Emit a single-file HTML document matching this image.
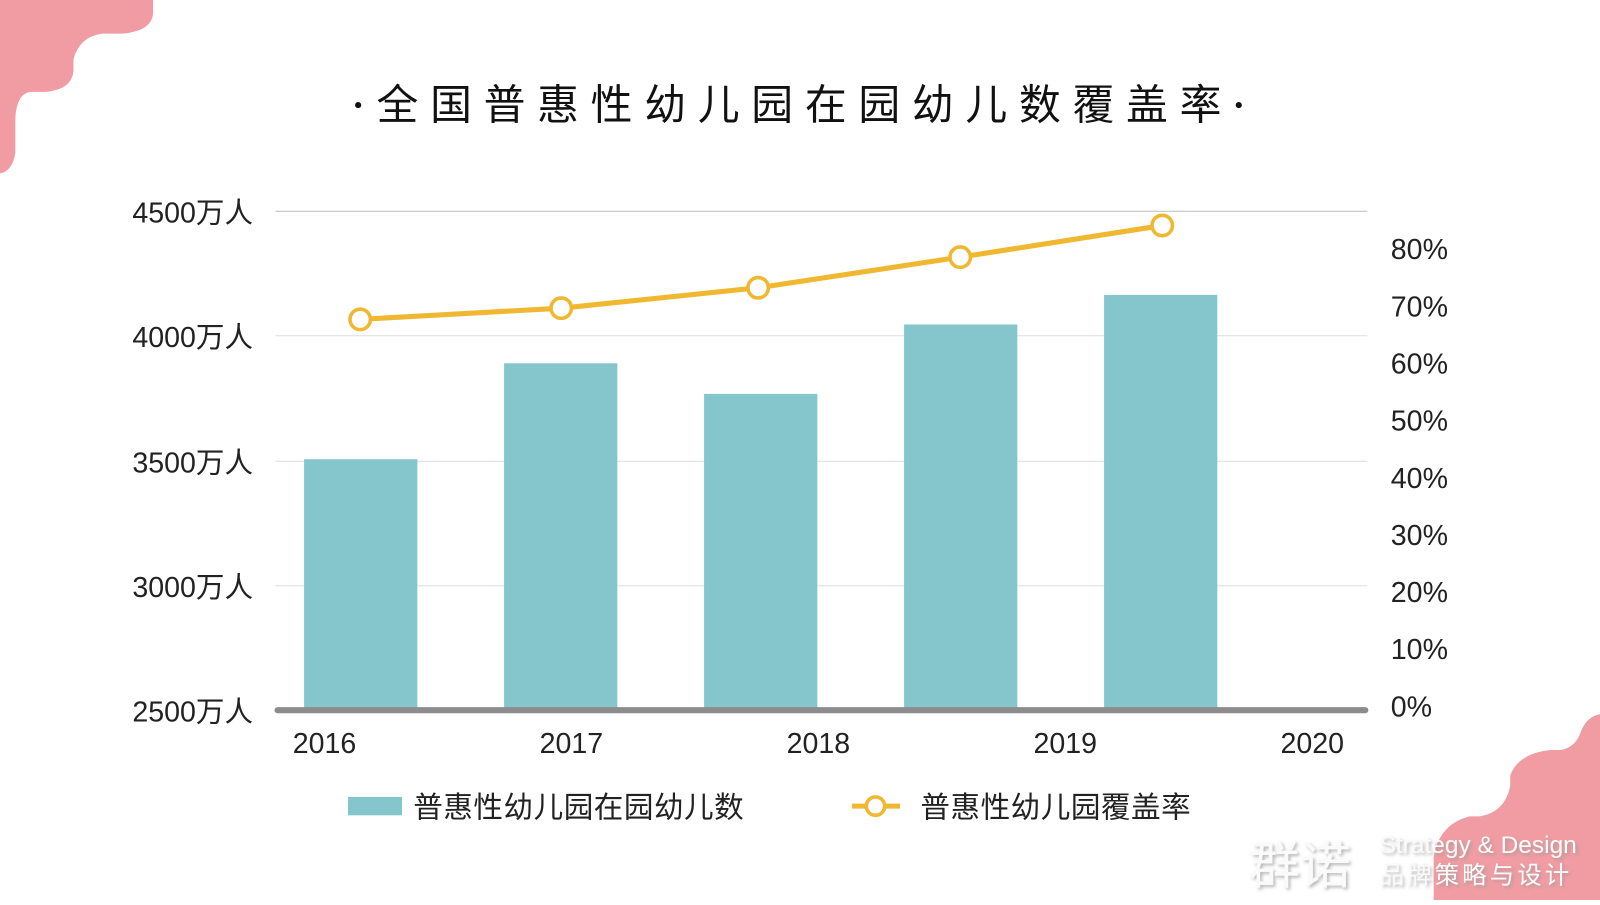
<!DOCTYPE html>
<html><head><meta charset="utf-8"><style>
html,body{margin:0;padding:0;background:#fff;overflow:hidden;width:1600px;height:900px}
#s{position:absolute;left:0;top:0;width:1568px;height:882px;transform:scale(1.0204);transform-origin:0 0}
text{font-family:"Liberation Sans","Noto Sans CJK SC",sans-serif}
</style></head><body><div id="s">
<svg width="1568" height="882" viewBox="0 0 1568 882">
<defs><filter id="sh"><feDropShadow dx="2" dy="2" stdDeviation="1.5" flood-color="#999" flood-opacity="0.7"/></filter></defs>
<path d="M0 0H150V12Q150 30 120 33H100Q78 36 72 58V70Q70 88 45 90H30Q15 92 15 120V150Q12 168 0 170Z" fill="#f09ca2"/>
<path d="M1568 700V882H1405V840Q1410 808 1440 800H1450Q1475 796 1480 770V760Q1488 738 1520 735H1530Q1545 732 1550 715Q1556 702 1568 700Z" fill="#f09ca2"/>
<circle cx="351" cy="103" r="3" fill="#111"/><circle cx="1214" cy="103" r="3" fill="#111"/>
<text x="369" y="117" font-size="41" textLength="828" lengthAdjust="spacing" fill="#111">全国普惠性幼儿园在园幼儿数覆盖率</text>
<g stroke="#ddd" stroke-width="1"><line x1="270" x2="1340" y1="207" y2="207" stroke="#bbb"/><line x1="270" x2="1340" y1="329" y2="329"/><line x1="270" x2="1340" y1="452" y2="452"/><line x1="270" x2="1340" y1="574" y2="574"/></g>
<g fill="#85c6cd"><rect x="298" y="450" width="111" height="246"/><rect x="494" y="356" width="111" height="340"/><rect x="690" y="386" width="111" height="310"/><rect x="886" y="318" width="111" height="378"/><rect x="1082" y="289" width="111" height="407"/></g>
<line x1="272" x2="1338" y1="696" y2="696" stroke="#8c8c8c" stroke-width="6" stroke-linecap="round"/>
<polyline points="353,313 550,302 743,282 941,252 1139,221" fill="none" stroke="#f0b731" stroke-width="5"/>
<g fill="#fff" stroke="#f0b731" stroke-width="3.5"><circle cx="353" cy="313" r="10"/><circle cx="550" cy="302" r="10"/><circle cx="743" cy="282" r="10"/><circle cx="941" cy="252" r="10"/><circle cx="1139" cy="221" r="10"/></g>
<g font-size="28" fill="#222" text-anchor="end"><text x="248" y="218">4500万人</text><text x="248" y="340">4000万人</text><text x="248" y="463">3500万人</text><text x="248" y="585">3000万人</text><text x="248" y="707">2500万人</text></g>
<g font-size="28" fill="#222"><text x="1363" y="254">80%</text><text x="1363" y="310">70%</text><text x="1363" y="366">60%</text><text x="1363" y="422">50%</text><text x="1363" y="478">40%</text><text x="1363" y="534">30%</text><text x="1363" y="590">20%</text><text x="1363" y="646">10%</text><text x="1363" y="702">0%</text></g>
<g font-size="28" fill="#222" text-anchor="middle"><text x="318" y="738">2016</text><text x="560" y="738">2017</text><text x="802" y="738">2018</text><text x="1044" y="738">2019</text><text x="1286" y="738">2020</text></g>
<rect x="341" y="781" width="53" height="18" fill="#85c6cd"/>
<text x="405" y="801" font-size="29" letter-spacing="0.5" fill="#222">普惠性幼儿园在园幼儿数</text>
<line x1="835" x2="882" y1="790" y2="790" stroke="#f0b731" stroke-width="5"/><circle cx="858" cy="790" r="9" fill="#fff" stroke="#f0b731" stroke-width="3.5"/>
<text x="902" y="801" font-size="29" letter-spacing="0.5" fill="#222">普惠性幼儿园覆盖率</text>
<g fill="#fafafa" filter="url(#sh)"><text x="1224" y="866" font-size="50">群诺</text><text x="1352" y="836" font-size="24">Strategy &amp; Design</text><text x="1352" y="866" font-size="24" letter-spacing="3">品牌策略与设计</text></g>
</svg></div></body></html>
